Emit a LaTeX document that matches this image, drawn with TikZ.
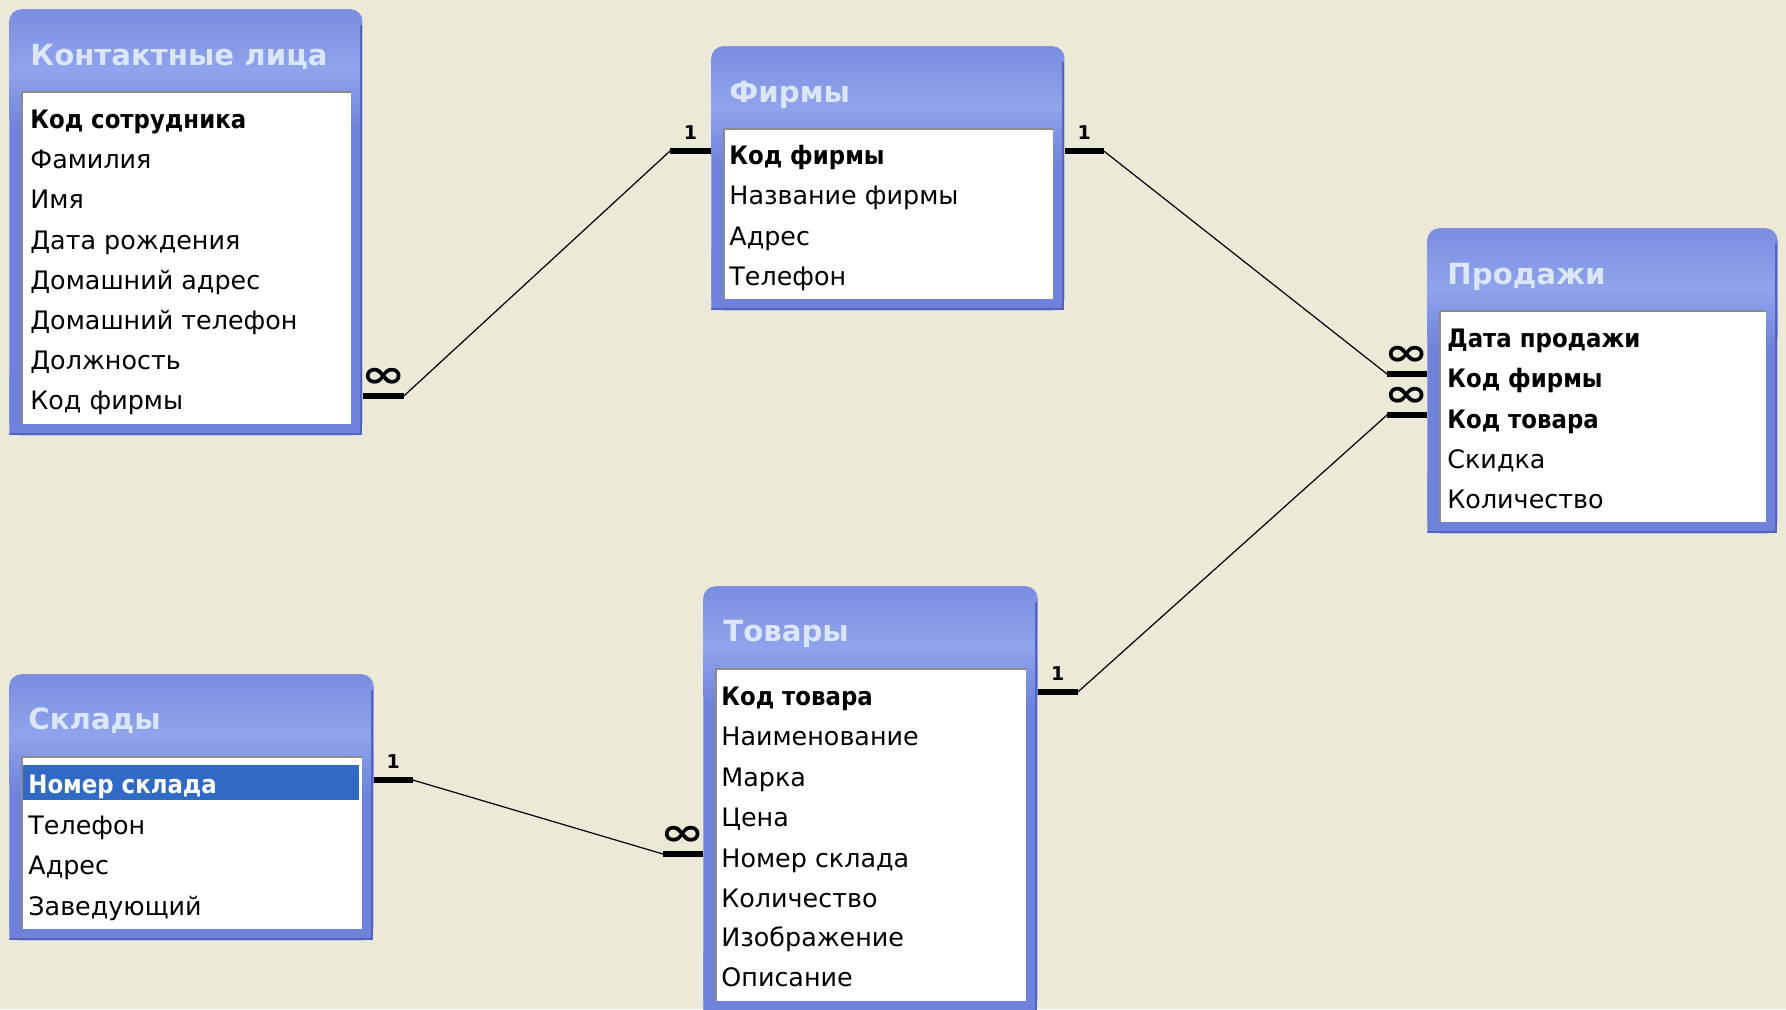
\documentclass[tikz,border=0pt]{standalone}
\usepackage{fontspec}
\setmainfont{DejaVu Sans}
\newfontfamily\keyfont{DejaVu Sans}[FakeStretch=0.9]
\usepackage{tikz}
\usetikzlibrary{calc}

\definecolor{bgcol}{HTML}{ECE9D8}
\definecolor{framecol}{HTML}{6F82DB}
\definecolor{hdtop}{HTML}{7A8DE0}
\definecolor{hdmid}{HTML}{8FA4EC}
\definecolor{edgecol}{HTML}{5563C0}
\definecolor{titlecol}{HTML}{DCE6FA}
\definecolor{selcol}{HTML}{316AC5}
\definecolor{sunk}{HTML}{8A8A8A}

\begin{document}
\begin{tikzpicture}[x=0.5pt, y=-0.5pt,
    tablebox/.style={anchor=north west, inner sep=0, fill=bgcol,
      path picture={
        \fill[framecol, rounded corners=6pt] (path picture bounding box.north west) rectangle (path picture bounding box.south east);
        \fill[framecol] ([yshift=30pt]path picture bounding box.south west) rectangle (path picture bounding box.south east);
        \shade[top color=hdtop, bottom color=framecol, middle color=hdmid, rounded corners=6pt] (path picture bounding box.north west) rectangle ([yshift=-60pt]path picture bounding box.north east);
        \draw[edgecol, line width=1.2pt] ([shift={(-0.6pt,-8pt)}]path picture bounding box.north east) -- ([shift={(-0.6pt,0.6pt)}]path picture bounding box.south east) -- ([yshift=0.6pt]path picture bounding box.south west);
        \fill[white] ([shift={(6pt,-41pt)}]path picture bounding box.north west) rectangle ([shift={(-5.5pt,5.5pt)}]path picture bounding box.south east);
        \draw[sunk, line width=1pt] ([shift={(6.5pt,5.5pt)}]path picture bounding box.south west) |- ([shift={(-5.5pt,-41.5pt)}]path picture bounding box.north east);
      }},
    title/.style={anchor=base west, inner sep=0, text=titlecol, font=\bfseries\fontsize{14.6}{16}\selectfont},
    field/.style={anchor=west, inner sep=0, text height=14pt, text depth=1pt, font=\fontsize{12.7}{15}\selectfont},
    key/.style={field, font=\keyfont\bfseries\fontsize{12.7}{15}\selectfont},
    stub/.style={line width=3.2pt},
    link/.style={line width=0.6pt},
    one/.style={midway, yshift=9pt, inner sep=0, font=\bfseries\fontsize{9.5}{10}\selectfont},
    many/.style={midway, yshift=9pt, inner sep=0, font=\bfseries\fontsize{19}{20}\selectfont}]

    % window background
    \fill[bgcol] (0,0) rectangle (1786,1009);
    \useasboundingbox (0,0) rectangle (1786,1009);

    % tables
    \node[tablebox, minimum width=176.5pt, minimum height=213pt] (kontakt) at (9,9) {};
    \node[tablebox, minimum width=176.5pt, minimum height=132pt] (firmy) at (711,46) {};
    \node[tablebox, minimum width=175pt, minimum height=152.5pt] (prodazhi) at (1427,228) {};
    \node[tablebox, minimum width=182pt, minimum height=133pt] (sklady) at (9,674) {};
    \node[tablebox, minimum width=167pt, minimum height=213pt] (tovary) at (703,586) {};

    \node[title] (kontakt-t) at (30,65) {Контактные лица};
    \node[title] (firmy-t) at (729,102) {Фирмы};
    \node[title] (prodazhi-t) at (1447,284) {Продажи};
    \node[title] (sklady-t) at (28,729) {Склады};
    \node[title] (tovary-t) at (723,641) {Товары};

    % Контактные лица
    \node[key] (k1) at (30,115) {Код сотрудника};
    \node[field] (k2) at (30,155) {Фамилия};
    \node[field] (k3) at (30,195) {Имя};
    \node[field] (k4) at (30,236) {Дата рождения};
    \node[field] (k5) at (30,276) {Домашний адрес};
    \node[field] (k6) at (30,316) {Домашний телефон};
    \node[field] (k7) at (30,356) {Должность};
    \node[field] (k8) at (30,396) {Код фирмы};

    % Фирмы
    \node[key] (f1) at (729,151) {Код фирмы};
    \node[field] (f2) at (729,191) {Название фирмы};
    \node[field] (f3) at (729,232) {Адрес};
    \node[field] (f4) at (729,272) {Телефон};

    % Продажи
    \node[key] (p1) at (1447,334) {Дата продажи};
    \node[key] (p2) at (1447,374) {Код фирмы};
    \node[key] (p3) at (1447,415) {Код товара};
    \node[field] (p4) at (1447,455) {Скидка};
    \node[field] (p5) at (1447,495) {Количество};

    % Склады
    \fill[selcol] (23,765) rectangle (359,800);
    \node[key, text=white] (s1) at (28,780) {Номер склада};
    \node[field] (s2) at (28,821) {Телефон};
    \node[field] (s3) at (28,861) {Адрес};
    \node[field] (s4) at (28,902) {Заведующий};

    % Товары
    \node[key] (t1) at (721,692) {Код товара};
    \node[field] (t2) at (721,732) {Наименование};
    \node[field] (t3) at (721,773) {Марка};
    \node[field] (t4) at (721,813) {Цена};
    \node[field] (t5) at (721,854) {Номер склада};
    \node[field] (t6) at (721,894) {Количество};
    \node[field] (t7) at (721,933) {Изображение};
    \node[field] (t8) at (721,973) {Описание};

    % relationships
    \draw[stub] (kontakt.east |- k8) -- node[many] {\scalebox{1.4}[1]{∞}} ++(41,0) coordinate (k8x);
    \draw[stub] (firmy.west |- f1) -- node[one] {1} ++(-41,0) coordinate (f1w);
    \draw[stub] (firmy.east |- f1) -- node[one] {1} ++(39,0) coordinate (f1e);
    \draw[stub] (prodazhi.west |- p2) -- node[many] {\scalebox{1.4}[1]{∞}} ++(-40,0) coordinate (p2w);
    \draw[stub] (prodazhi.west |- p3) -- node[many] {\scalebox{1.4}[1]{∞}} ++(-40,0) coordinate (p3w);
    \draw[stub] (tovary.east |- t1) -- node[one] {1} ++(40,0) coordinate (t1e);
    \draw[stub] (sklady.east |- s1) -- node[one] {1} ++(39,0) coordinate (s1e);
    \draw[stub] (tovary.west |- t5) -- node[many] {\scalebox{1.4}[1]{∞}} ++(-40,0) coordinate (t5w);

    \draw[link] (k8x) -- (f1w);
    \draw[link] (f1e) -- (p2w);
    \draw[link] (t1e) -- (p3w);
    \draw[link] (s1e) -- (t5w);
\end{tikzpicture}
\end{document}
